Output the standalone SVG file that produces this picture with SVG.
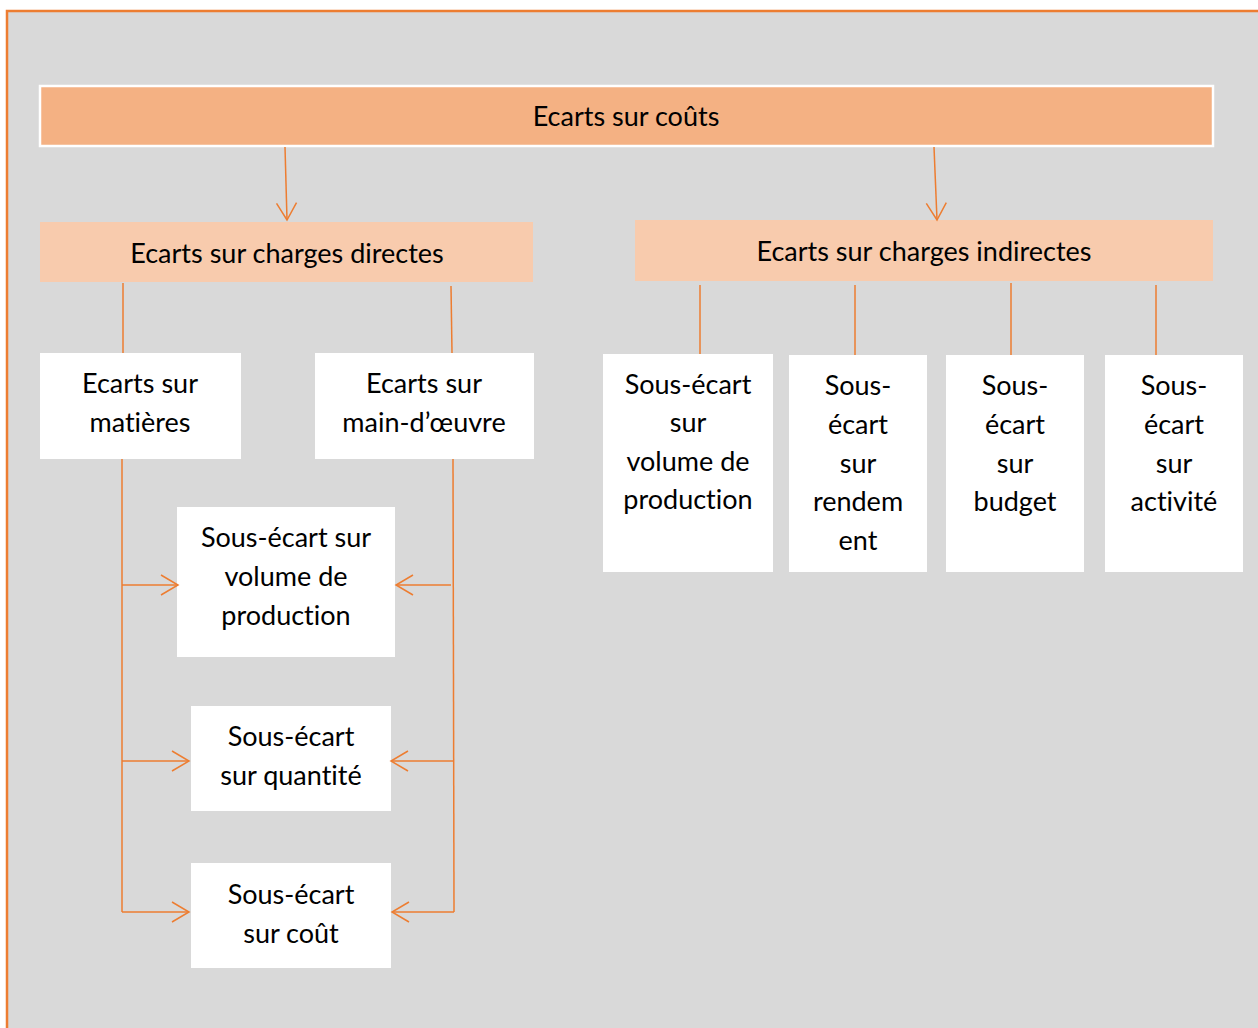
<svg xmlns="http://www.w3.org/2000/svg" width="1258" height="1028" viewBox="0 0 1258 1028">
<defs>
<style>
.bg{fill:#d9d9d9;stroke:#ed7d31;stroke-width:2.5}
.top{fill:#f4b183;stroke:#ffffff;stroke-width:2.5}
.mid{fill:#f8cbad}
.leaf{fill:#ffffff}
.t{font-family:Lato,"Open Sans","Liberation Sans",sans-serif;font-size:27px;fill:#000;text-anchor:middle;dominant-baseline:central;font-variant-ligatures:none}
.c{fill:none;stroke:#ed7d31;stroke-width:1.5}
</style>
<marker id="ah" markerUnits="userSpaceOnUse" markerWidth="40" markerHeight="40" viewBox="-20 -20 40 40" refX="0" refY="0" orient="auto">
<path d="M-17,-10 L0,0 L-17,10" fill="none" stroke="#ed7d31" stroke-width="1.5"/>
</marker>
</defs>
<rect class="bg" x="7" y="11" width="1260" height="1030"/>
<g id="n-couts">
<rect class="top" x="40" y="86" width="1173" height="60"/>
<text class="t" x="626" y="115">Ecarts sur coûts</text>
</g>
<g id="n-directes">
<rect class="mid" x="40" y="222" width="493" height="60"/>
<text class="t" x="287" y="252">Ecarts sur charges directes</text>
</g>
<g id="n-indirectes">
<rect class="mid" x="635" y="220" width="578" height="61"/>
<text class="t" x="924" y="250">Ecarts sur charges indirectes</text>
</g>
<g id="n-matieres">
<rect class="leaf" x="40" y="353" width="201" height="106"/>
<text class="t" x="140" y="382">Ecarts sur</text>
<text class="t" x="140" y="421">matières</text>
</g>
<g id="n-maindoeuvre">
<rect class="leaf" x="315" y="353" width="219" height="106"/>
<text class="t" x="424" y="382">Ecarts sur</text>
<text class="t" x="424" y="421">main-d’œuvre</text>
</g>
<g id="n-volume">
<rect class="leaf" x="177" y="507" width="218" height="150"/>
<text class="t" x="286" y="536">Sous-écart sur</text>
<text class="t" x="286" y="575">volume de</text>
<text class="t" x="286" y="614">production</text>
</g>
<g id="n-quantite">
<rect class="leaf" x="191" y="706" width="200" height="105"/>
<text class="t" x="291" y="735">Sous-écart</text>
<text class="t" x="291" y="774">sur quantité</text>
</g>
<g id="n-cout">
<rect class="leaf" x="191" y="863" width="200" height="105"/>
<text class="t" x="291" y="893">Sous-écart</text>
<text class="t" x="291" y="932">sur coût</text>
</g>
<g id="n-ind-volume">
<rect class="leaf" x="603" y="354" width="170" height="218"/>
<text class="t" x="688" y="383">Sous-écart</text>
<text class="t" x="688" y="421">sur</text>
<text class="t" x="688" y="460">volume de</text>
<text class="t" x="688" y="498">production</text>
</g>
<g id="n-rendement">
<rect class="leaf" x="789" y="355" width="138" height="217"/>
<text class="t" x="858" y="384">Sous-</text>
<text class="t" x="858" y="423">écart</text>
<text class="t" x="858" y="462">sur</text>
<text class="t" x="858" y="500">rendem</text>
<text class="t" x="858" y="539">ent</text>
</g>
<g id="n-budget">
<rect class="leaf" x="946" y="355" width="138" height="217"/>
<text class="t" x="1015" y="384">Sous-</text>
<text class="t" x="1015" y="423">écart</text>
<text class="t" x="1015" y="462">sur</text>
<text class="t" x="1015" y="500">budget</text>
</g>
<g id="n-activite">
<rect class="leaf" x="1105" y="355" width="138" height="217"/>
<text class="t" x="1174" y="384">Sous-</text>
<text class="t" x="1174" y="423">écart</text>
<text class="t" x="1174" y="462">sur</text>
<text class="t" x="1174" y="500">activité</text>
</g>
<g id="connectors">
<line class="c" x1="285" y1="147" x2="287" y2="220" marker-end="url(#ah)"/>
<line class="c" x1="934" y1="147" x2="937" y2="220" marker-end="url(#ah)"/>
<line class="c" x1="123" y1="283" x2="123" y2="353"/>
<line class="c" x1="451" y1="286" x2="452" y2="353"/>
<line class="c" x1="700" y1="285" x2="700" y2="354"/>
<line class="c" x1="855" y1="285" x2="855" y2="355"/>
<line class="c" x1="1011" y1="283" x2="1011" y2="355"/>
<line class="c" x1="1156" y1="285" x2="1156" y2="355"/>
<polyline class="c" points="122,459 122,912"/>
<line class="c" x1="122" y1="585" x2="178" y2="585" marker-end="url(#ah)"/>
<line class="c" x1="122" y1="761" x2="189" y2="761" marker-end="url(#ah)"/>
<line class="c" x1="122" y1="912" x2="189" y2="912" marker-end="url(#ah)"/>
<polyline class="c" points="453,459 454,912"/>
<line class="c" x1="451" y1="585" x2="396" y2="585" marker-end="url(#ah)"/>
<line class="c" x1="453" y1="761" x2="391" y2="761" marker-end="url(#ah)"/>
<line class="c" x1="454" y1="912" x2="392" y2="912" marker-end="url(#ah)"/>
</g>
</svg>
